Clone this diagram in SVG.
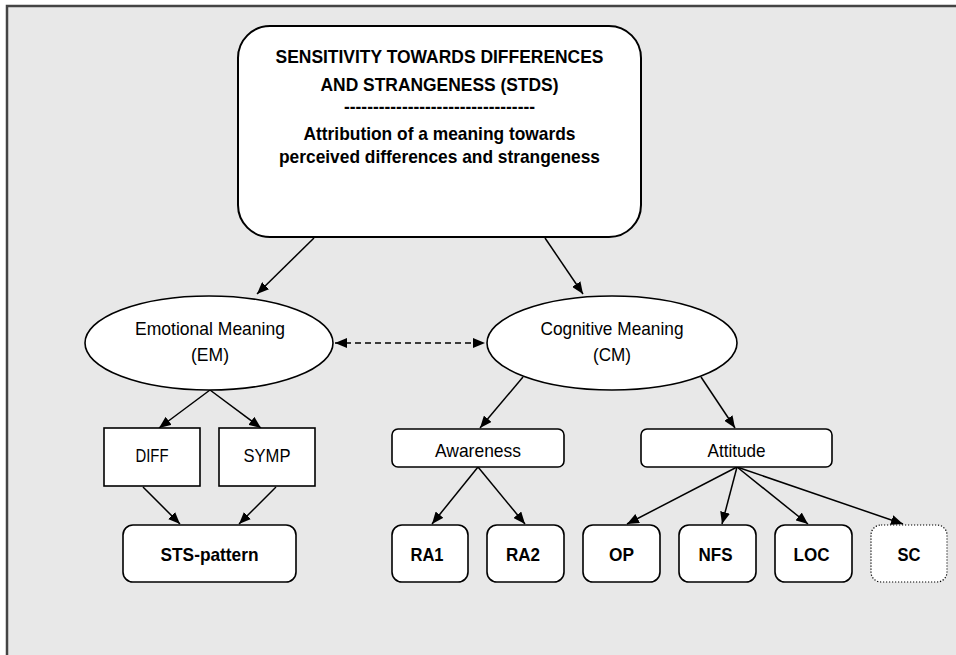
<svg xmlns="http://www.w3.org/2000/svg" width="956" height="655" viewBox="0 0 956 655">
  <defs>
    <marker id="arrow" viewBox="0 0 12 10" refX="12" refY="5" markerWidth="12" markerHeight="10" markerUnits="userSpaceOnUse" orient="auto-start-reverse">
      <path d="M0,0 L12,5 L0,10 Z" fill="#000"/>
    </marker>
    <style>
      .frame { fill: #e8e8e8; stroke: #444; stroke-width: 2.5; }
      .node { fill: #fff; stroke: #000; stroke-width: 1.6; }
      .top { fill: #fff; stroke: #000; stroke-width: 2; }
      .dotted { fill: #fff; stroke: #000; stroke-width: 1.2; stroke-dasharray: 1.2 1.8; }
      .t { font-family: "Liberation Sans", Arial, sans-serif; font-size: 19px; fill: #000; text-anchor: middle; }
      .b { font-weight: bold; font-size: 18.5px; }
      .edge { stroke: #000; stroke-width: 1.5; fill: none; marker-end: url(#arrow); }
      .dashed { stroke: #000; stroke-width: 1.5; fill: none; stroke-dasharray: 6 4; marker-start: url(#arrow); marker-end: url(#arrow); }
    </style>
  </defs>

  <!-- page frame -->
  <rect class="frame" x="7" y="6" width="970" height="670"/>

  <!-- connectors -->
  <g id="connectors">
    <line class="edge" x1="314" y1="238" x2="257" y2="294"/>
    <line class="edge" x1="545" y1="238" x2="583" y2="294"/>
    <line class="dashed" x1="335" y1="343" x2="485" y2="343"/>
    <line class="edge" x1="210" y1="390" x2="159" y2="428"/>
    <line class="edge" x1="210" y1="390" x2="261" y2="428"/>
    <line class="edge" x1="523" y1="377" x2="480" y2="428"/>
    <line class="edge" x1="701" y1="377" x2="735" y2="428"/>
    <line class="edge" x1="143" y1="487" x2="180" y2="524"/>
    <line class="edge" x1="276" y1="487" x2="239" y2="524"/>
    <line class="edge" x1="478" y1="467" x2="432" y2="524"/>
    <line class="edge" x1="478" y1="467" x2="525" y2="524"/>
    <line class="edge" x1="737" y1="467" x2="627" y2="524"/>
    <line class="edge" x1="737" y1="467" x2="722" y2="524"/>
    <line class="edge" x1="737" y1="467" x2="808" y2="524"/>
    <line class="edge" x1="737" y1="467" x2="903" y2="524"/>
  </g>

  <!-- root concept -->
  <g id="stds">
    <rect class="top" x="238" y="26" width="403" height="211" rx="32"/>
    <text class="t b" x="439.5" y="63" textLength="328" lengthAdjust="spacingAndGlyphs">SENSITIVITY TOWARDS DIFFERENCES</text>
    <text class="t b" x="439.5" y="90.5" textLength="238" lengthAdjust="spacingAndGlyphs">AND STRANGENESS (STDS)</text>
    <text class="t b" x="439.5" y="113" textLength="191" lengthAdjust="spacingAndGlyphs">---------------------------------</text>
    <text class="t b" x="439.5" y="140" textLength="272" lengthAdjust="spacingAndGlyphs">Attribution of a meaning towards</text>
    <text class="t b" x="439.5" y="162.5" textLength="321" lengthAdjust="spacingAndGlyphs">perceived differences and strangeness</text>
  </g>

  <g id="em">
    <ellipse class="node" cx="209" cy="343" rx="124" ry="47"/>
    <text class="t" x="210" y="335" textLength="150" lengthAdjust="spacingAndGlyphs">Emotional Meaning</text>
    <text class="t" x="210" y="361" textLength="38" lengthAdjust="spacingAndGlyphs">(EM)</text>
  </g>

  <g id="cm">
    <ellipse class="node" cx="612" cy="343" rx="125" ry="47"/>
    <text class="t" x="612" y="335" textLength="143" lengthAdjust="spacingAndGlyphs">Cognitive Meaning</text>
    <text class="t" x="612" y="361" textLength="38" lengthAdjust="spacingAndGlyphs">(CM)</text>
  </g>

  <g id="diff">
    <rect class="node" x="104" y="428" width="96" height="58"/>
    <text class="t" x="152" y="462" textLength="33" lengthAdjust="spacingAndGlyphs">DIFF</text>
  </g>

  <g id="symp">
    <rect class="node" x="219" y="428" width="96" height="58"/>
    <text class="t" x="267" y="462" textLength="47" lengthAdjust="spacingAndGlyphs">SYMP</text>
  </g>

  <g id="awareness">
    <rect class="node" x="392" y="429" width="172" height="38" rx="6"/>
    <text class="t" x="478" y="457" textLength="86" lengthAdjust="spacingAndGlyphs">Awareness</text>
  </g>

  <g id="attitude">
    <rect class="node" x="641" y="429" width="191" height="38" rx="6"/>
    <text class="t" x="736.5" y="457" textLength="58" lengthAdjust="spacingAndGlyphs">Attitude</text>
  </g>

  <g id="sts-pattern">
    <rect class="node" x="123" y="525" width="173" height="57" rx="10"/>
    <text class="t b" x="209.5" y="561" textLength="98" lengthAdjust="spacingAndGlyphs">STS-pattern</text>
  </g>

  <g id="ra1">
    <rect class="node" x="392" y="525" width="76" height="57" rx="10"/>
    <text class="t b" x="427" y="561" textLength="33" lengthAdjust="spacingAndGlyphs">RA1</text>
  </g>

  <g id="ra2">
    <rect class="node" x="487" y="525" width="77" height="57" rx="10"/>
    <text class="t b" x="523" y="561" textLength="34" lengthAdjust="spacingAndGlyphs">RA2</text>
  </g>

  <g id="op">
    <rect class="node" x="583" y="525" width="77" height="57" rx="10"/>
    <text class="t b" x="621.5" y="561" textLength="25" lengthAdjust="spacingAndGlyphs">OP</text>
  </g>

  <g id="nfs">
    <rect class="node" x="679" y="525" width="77" height="57" rx="10"/>
    <text class="t b" x="715.5" y="561" textLength="34" lengthAdjust="spacingAndGlyphs">NFS</text>
  </g>

  <g id="loc">
    <rect class="node" x="775" y="525" width="77" height="57" rx="10"/>
    <text class="t b" x="811.5" y="561" textLength="36" lengthAdjust="spacingAndGlyphs">LOC</text>
  </g>

  <g id="sc">
    <rect class="dotted" x="871" y="525" width="76" height="57" rx="10"/>
    <text class="t b" x="909" y="561" textLength="23" lengthAdjust="spacingAndGlyphs">SC</text>
  </g>
</svg>
